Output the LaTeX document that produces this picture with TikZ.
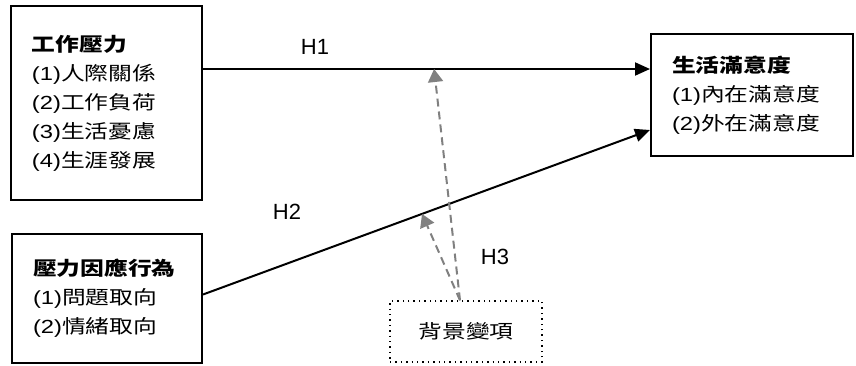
\documentclass[tikz,border=0pt]{standalone}
\usepackage{fontspec}
\setmainfont{Liberation Sans}
\newfontfamily\widesans{Liberation Sans}[FakeStretch=1.25]
\newfontfamily\cjk{Noto Sans CJK TC}[FakeStretch=1.25]
\newcommand{\zh}[1]{{\cjk #1}}
\usepackage{tikz}
\usetikzlibrary{arrows.meta,positioning,calc}

\begin{document}
\begin{tikzpicture}[x=0.5pt, y=-0.5pt,
    box/.style={rectangle, draw, line width=1pt, align=left, inner xsep=10.5pt,
                font=\widesans\fontsize{9.5}{14.5}\selectfont},
    varbox/.style={rectangle, draw, dotted, line width=0.7pt, align=center,
                minimum width=76pt, minimum height=30.5pt, font=\cjk\fontsize{9.5}{14.5}\selectfont},
    hlabel/.style={font=\fontsize{11}{13}\selectfont},
    arr/.style={-{Triangle[length=7.5pt, width=6.5pt]}, line width=1pt},
    modarr/.style={-{Triangle[length=6.5pt, width=7.5pt]}, line width=1pt, gray,
                dash pattern=on 4pt off 2.5pt}
]
    \useasboundingbox (0,0) rectangle (856,365);
    \node[box, text width=74.5pt, minimum height=97pt] (stress) at (106.5,103)
        {\textbf{\zh{工作壓力}}\\(1)\zh{人際關係}\\(2)\zh{工作負荷}\\(3)\zh{生活憂慮}\\(4)\zh{生涯發展}};
    \node[box, text width=80pt, minimum height=61pt] (life) at (752,95)
        {\textbf{\zh{生活滿意度}}\\(1)\zh{內在滿意度}\\(2)\zh{外在滿意度}};
    \node[box, text width=74pt, minimum height=64.5pt] (coping) at (107,298.5)
        {\textbf{\zh{壓力因應行為}}\\(1)\zh{問題取向}\\(2)\zh{情緒取向}};
    \node[varbox] (bg) at (466,331.5) {背景變項};
    % hypotheses
    \coordinate (h1start) at ($(stress.north east)+(0,64)$);
    \coordinate (h1end) at (h1start -| life.west);
    \coordinate (h2start) at ($(coping.east)+(0,-4)$);
    \coordinate (h2end) at ($(life.west)+(0,35)$);
    \draw[arr] (h1start) -- (h1end);
    \draw[arr] (h2start) -- (h2end);
    \node[hlabel] (h1) at (315,47) {H1};
    \node[hlabel] (h2) at (287,212) {H2};
    \node[hlabel] (h3) at (495,257) {H3};
    % moderating effects
    \coordinate (bgtop) at ($(bg.north)+(-6,0)$);
    \draw[modarr] (bgtop) -- ($(h1start)!0.517!(h1end)$);
    \draw[modarr] (bgtop) -- ($(h2start)!0.49!(h2end)$);
\end{tikzpicture}
\end{document}
